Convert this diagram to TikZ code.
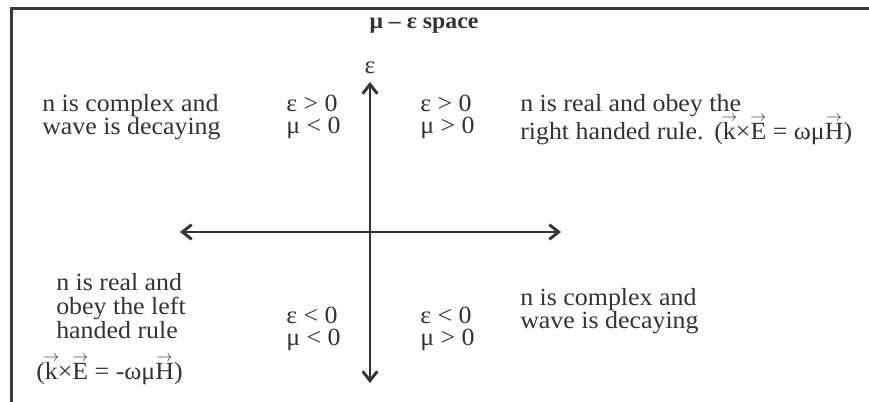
\documentclass[tikz,border=0pt]{standalone}
\usepackage{fontspec}
\setmainfont[FakeStretch=1.05]{Liberation Serif}
\usepackage{tikz}
\usetikzlibrary{arrows.meta,positioning}
\definecolor{ink}{HTML}{333333}
\definecolor{frameink}{HTML}{3A3A3A}
\newcommand{\vecarrow}[1]{\leavevmode\setbox0=\hbox{#1}%
  \rlap{\hbox to\wd0{\hss\raisebox{0.74em}{$\scriptstyle\rightarrow$}\hss}}\box0\relax}
\tikzset{
  regiontext/.style={
    anchor=west, align=left, inner sep=0pt, text=ink,
    font=\fontsize{18.5}{17}\selectfont
  },
  looseregion/.style={
    regiontext, font=\fontsize{18.5}{18}\selectfont
  },
  ruleregion/.style={
    regiontext, font=\fontsize{18.5}{21}\selectfont
  },
  titletext/.style={
    inner sep=0pt, text=ink,
    font=\fontsize{17}{17}\selectfont\bfseries
  },
  axisarrow/.style={
    {Straight Barb[length=7pt,width=11pt]}-{Straight Barb[length=7pt,width=11pt]},
    line width=2.2pt, color=#1
  },
  axisarrow/.default=ink,
  frameline/.style={line width=2.25pt, color=frameink},
}

\begin{document}
\begin{tikzpicture}[x=0.75pt, y=-0.75pt]
  \useasboundingbox (0,0) rectangle (869,402);
  \draw[frameline] (869,9) -- (11,9) -- (11,402);
  \node[titletext] (title) at (424,26) {μ – ε space};
  \coordinate (etop) at (370,82);
  \coordinate (ebot) at (370,383);
  \coordinate (mleft) at (180,232);
  \coordinate (mright) at (561,232);
  \draw[axisarrow] (ebot) -- (etop);
  \draw[axisarrow] (mleft) -- (mright);
  \node[regiontext, anchor=south, above=6pt of etop] (eps) {ε};
  \node[regiontext] (ultext) at (42,117) {n is complex and\\wave is decaying};
  \node[regiontext] (ulsign) at (286,117) {ε > 0\\μ < 0};
  \node[regiontext] (ursign) at (420,117) {ε > 0\\μ > 0};
  \node[ruleregion] (urtext) at (520,120)
    {n is real and obey the\\right handed rule.\hspace{8pt}\smash{(\vecarrow{k}×\vecarrow{E} = ωμ\vecarrow{H})}};
  \node[looseregion] (lltext) at (56,306) {n is real and\\obey the left\\handed rule};
  \node[regiontext] (llrule) at (36,370) {(\vecarrow{k}×\vecarrow{E} = -ωμ\vecarrow{H})};
  \node[regiontext] (llsign) at (286,329) {ε < 0\\μ < 0};
  \node[regiontext] (lrsign) at (420,329) {ε < 0\\μ > 0};
  \node[regiontext] (lrtext) at (520,311) {n is complex and\\wave is decaying};
\end{tikzpicture}
\end{document}
